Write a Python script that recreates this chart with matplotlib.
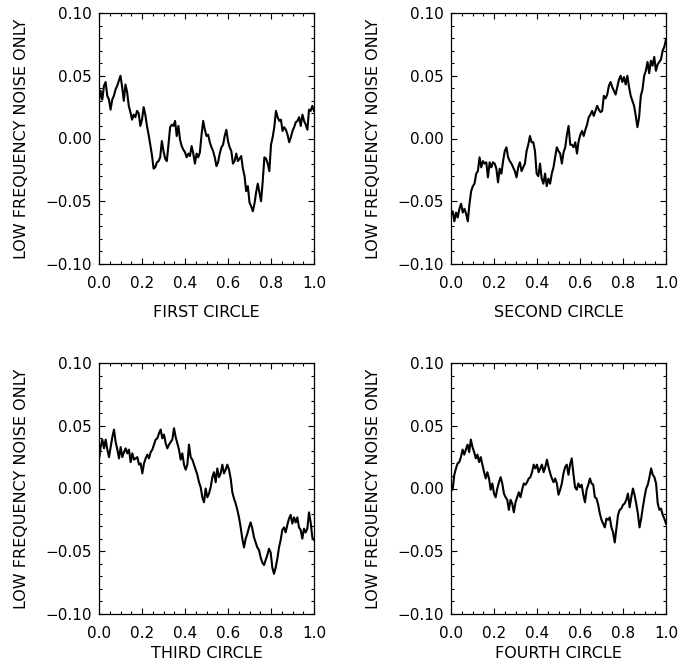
import numpy as np
import matplotlib
matplotlib.use("Agg")
import matplotlib.pyplot as plt
from matplotlib.ticker import MultipleLocator

# values, evenly spaced along each circle (0 -> 1)
first_circle = [0.030, 0.038, 0.031, 0.042, 0.045, 0.034, 0.031, 0.023, 0.031, 0.034, 0.039, 0.042, 0.046, 0.050,
                0.041, 0.030, 0.043, 0.037, 0.026, 0.021, 0.015, 0.019, 0.017, 0.022, 0.020, 0.010, 0.015, 0.025,
                0.019, 0.010, 0.003, -0.005, -0.013, -0.024, -0.023, -0.019, -0.018, -0.015, -0.002, -0.010, -0.016,
                -0.018, -0.005, 0.009, 0.011, 0.010, 0.014, 0.002, 0.010, -0.001, -0.006, -0.009, -0.011, -0.015,
                -0.012, -0.014, -0.006, -0.012, -0.020, -0.012, -0.015, -0.011, 0.003, 0.014, 0.007, 0.002, 0.003,
                -0.003, -0.007, -0.010, -0.015, -0.022, -0.019, -0.012, -0.007, -0.005, 0.002, 0.007, -0.002, -0.007,
                -0.010, -0.020, -0.018, -0.012, -0.018, -0.016, -0.014, -0.024, -0.030, -0.042, -0.038, -0.051,
                -0.054, -0.058, -0.052, -0.043, -0.036, -0.043, -0.050, -0.034, -0.015, -0.016, -0.020, -0.026,
                -0.005, 0.001, 0.009, 0.022, 0.017, 0.014, 0.015, 0.006, 0.009, 0.007, 0.003, -0.003, 0.001, 0.006,
                0.009, 0.013, 0.014, 0.017, 0.010, 0.019, 0.014, 0.011, 0.007, 0.023, 0.022, 0.026, 0.022]

second_circle = [-0.060, -0.058, -0.066, -0.059, -0.063, -0.056, -0.052, -0.059, -0.056, -0.060, -0.066, -0.052,
                 -0.042, -0.038, -0.036, -0.028, -0.026, -0.015, -0.023, -0.018, -0.020, -0.019, -0.031, -0.019,
                 -0.023, -0.019, -0.020, -0.024, -0.035, -0.024, -0.028, -0.018, -0.010, -0.007, -0.015, -0.018,
                 -0.020, -0.023, -0.026, -0.031, -0.023, -0.019, -0.026, -0.023, -0.020, -0.010, -0.005, 0.002,
                 -0.003, -0.003, -0.010, -0.028, -0.030, -0.020, -0.032, -0.036, -0.028, -0.038, -0.032, -0.036,
                 -0.028, -0.023, -0.015, -0.007, -0.010, -0.012, -0.020, -0.011, -0.007, 0.003, 0.010, -0.005,
                 -0.005, -0.007, -0.003, -0.012, -0.002, 0.003, 0.006, 0.002, 0.007, 0.011, 0.017, 0.019, 0.022,
                 0.018, 0.022, 0.026, 0.023, 0.021, 0.022, 0.034, 0.032, 0.035, 0.042, 0.045, 0.041, 0.038, 0.035,
                 0.041, 0.047, 0.050, 0.045, 0.049, 0.043, 0.050, 0.041, 0.034, 0.030, 0.026, 0.018, 0.009, 0.017,
                 0.034, 0.039, 0.050, 0.054, 0.061, 0.052, 0.062, 0.058, 0.065, 0.054, 0.059, 0.061, 0.063, 0.070,
                 0.073, 0.079]

third_circle = [0.023, 0.033, 0.039, 0.032, 0.039, 0.031, 0.025, 0.033, 0.041, 0.047, 0.037, 0.031, 0.024, 0.033,
                0.025, 0.029, 0.032, 0.028, 0.031, 0.021, 0.028, 0.023, 0.024, 0.025, 0.019, 0.020, 0.012, 0.020,
                0.024, 0.027, 0.024, 0.029, 0.031, 0.035, 0.039, 0.040, 0.044, 0.047, 0.040, 0.043, 0.036, 0.032,
                0.035, 0.037, 0.039, 0.048, 0.041, 0.036, 0.031, 0.023, 0.028, 0.019, 0.015, 0.019, 0.035, 0.025,
                0.023, 0.019, 0.015, 0.011, 0.005, 0.001, -0.007, -0.011, 0.000, -0.007, -0.004, 0.001, 0.009,
                0.013, 0.005, 0.016, 0.009, 0.012, 0.019, 0.012, 0.015, 0.019, 0.015, 0.008, -0.003, -0.008, -0.012,
                -0.017, -0.023, -0.031, -0.040, -0.047, -0.040, -0.036, -0.031, -0.027, -0.032, -0.039, -0.043,
                -0.047, -0.049, -0.055, -0.059, -0.061, -0.057, -0.053, -0.048, -0.051, -0.063, -0.068, -0.063,
                -0.056, -0.047, -0.041, -0.033, -0.031, -0.035, -0.029, -0.024, -0.021, -0.028, -0.023, -0.027,
                -0.023, -0.031, -0.033, -0.040, -0.032, -0.035, -0.032, -0.019, -0.027, -0.039, -0.041]

fourth_circle = [0.004, -0.001, 0.011, 0.016, 0.020, 0.021, 0.025, 0.031, 0.027, 0.031, 0.035, 0.029, 0.039, 0.033,
                 0.029, 0.024, 0.027, 0.021, 0.025, 0.019, 0.013, 0.008, 0.013, 0.008, -0.001, 0.004, -0.004, -0.007,
                 0.000, 0.005, 0.009, 0.004, -0.004, -0.007, -0.009, -0.017, -0.009, -0.012, -0.019, -0.011, -0.007,
                 -0.003, -0.007, -0.001, 0.004, 0.003, 0.005, 0.008, 0.009, 0.013, 0.019, 0.016, 0.019, 0.013, 0.016,
                 0.019, 0.013, 0.017, 0.023, 0.017, 0.012, 0.008, 0.005, 0.008, 0.004, -0.005, -0.001, 0.004, 0.012,
                 0.017, 0.019, 0.011, 0.019, 0.024, 0.012, 0.001, -0.001, 0.004, 0.001, 0.003, -0.005, -0.011,
                 -0.001, 0.003, 0.008, 0.004, 0.003, -0.007, -0.008, -0.013, -0.020, -0.025, -0.028, -0.031, -0.024,
                 -0.025, -0.023, -0.031, -0.035, -0.043, -0.032, -0.021, -0.017, -0.016, -0.013, -0.012, -0.009,
                 -0.004, -0.015, -0.007, 0.000, -0.005, -0.012, -0.020, -0.031, -0.024, -0.015, -0.007, 0.000, 0.003,
                 0.009, 0.016, 0.011, 0.009, 0.004, -0.012, -0.017, -0.016, -0.021, -0.024, -0.028]

circles = [first_circle, second_circle, third_circle, fourth_circle]
xlabels = ["FIRST CIRCLE", "SECOND CIRCLE", "THIRD CIRCLE", "FOURTH CIRCLE"]
ylabel = "LOW FREQUENCY NOISE ONLY"

plt.rcParams["font.family"] = "DejaVu Sans"
plt.rcParams["font.size"] = 11

W, H = 695, 661
fig = plt.figure(figsize=(W / 100, H / 100), dpi=100)

# axes boxes in pixels: (left, top, right, bottom), plus xlabel pad
boxes = [(99, 13, 314, 264, 10), (451, 13, 666, 264, 10),
         (99, 363, 314, 614, 3), (451, 363, 666, 614, 3)]

for vals, xlab, (l, t, r, b, lp) in zip(circles, xlabels, boxes):
    ax = fig.add_axes([l / W, 1 - b / H, (r - l) / W, (b - t) / H])
    x = np.linspace(0, 1, len(vals))
    ax.plot(x, vals, color="black", lw=1.5)
    ax.set_xlim(0, 1)
    ax.set_ylim(-0.1, 0.1)
    ax.xaxis.set_minor_locator(MultipleLocator(0.05))
    ax.yaxis.set_minor_locator(MultipleLocator(0.01))
    ax.set_xticks([0, 0.2, 0.4, 0.6, 0.8, 1.0])
    ax.set_xticklabels(["0.0", "0.2", "0.4", "0.6", "0.8", "1.0"])
    ax.set_yticks([-0.1, -0.05, 0, 0.05, 0.1])
    ax.set_yticklabels(["\u22120.10", "\u22120.05", "0.00", "0.05", "0.10"])
    ax.tick_params(which="both", direction="in", top=True, right=True, width=0.8)
    ax.tick_params(which="major", length=4.5)
    ax.tick_params(which="minor", length=2)
    ax.tick_params(axis="x", pad=9)
    ax.tick_params(axis="y", pad=5)
    for s in ax.spines.values():
        s.set_linewidth(0.9)
    ax.set_xlabel(xlab, labelpad=lp, fontsize=11.5)
    ax.set_ylabel(ylabel, labelpad=12, fontsize=11.5)

fig.savefig("out.png", dpi=100)
